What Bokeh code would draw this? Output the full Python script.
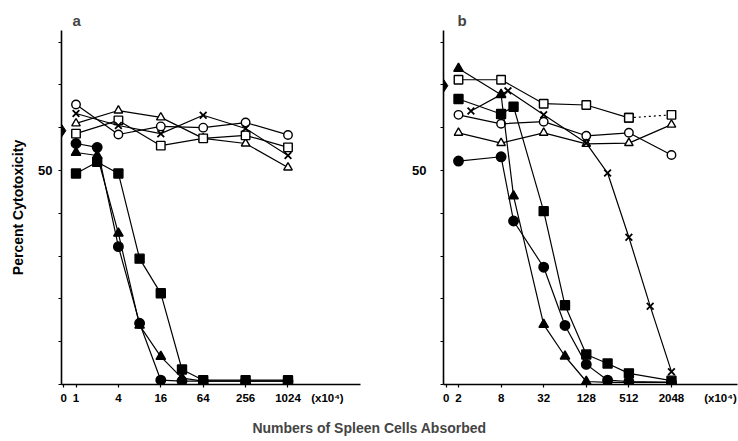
import numpy as np
from bokeh.plotting import figure
from bokeh.models import FixedTicker, Label, Range1d
from bokeh.layouts import column, row
from bokeh.embed import file_html
from bokeh.resources import INLINE

FONT = "Liberation Sans"

# ---------------- data: panel a (cells x10^4 vs % cytotoxicity) ----------------
a_open_x = [1, 4, 16, 64, 256, 1024]
a_circle_open = [65.4, 58.4, 60.3, 60.0, 61.2, 58.3]
a_triangle_open = [61.0, 64.0, 62.4, 57.5, 56.3, 50.7]
a_square_open = [58.6, 61.7, 55.8, 57.5, 58.2, 55.4]
a_cross = [63.3, 60.5, 58.6, 62.9, 59.8, 53.5]

a_filled_x = [1, 2, 4, 8, 16, 32, 64, 256, 1024]
a_circle_filled = [56.3, 55.4, 32.2, 14.3, 1.0, 0.8, 0.8, 0.8, 0.8]
a_triangle_filled = [54.2, 53.5, 35.3, 13.8, 6.5, 1.5, 0.8, 0.8, 0.8]
a_square_filled = [49.3, 52.0, 49.3, 29.4, 21.3, 3.5, 1.0, 1.0, 1.0]
a_control = 59.3

a_tick_cells = [1, 4, 16, 64, 256, 1024]
a_tick_labels = ["1", "4", "16", "64", "256", "1024"]

# ---------------- data: panel b ----------------
b_open_x = [2, 8, 32, 128, 512, 2048]
b_circle_open = [63.0, 60.9, 61.4, 58.1, 58.8, 53.6]
b_triangle_open = [58.8, 56.4, 58.8, 56.2, 56.4, 60.7]
b_square_open = [71.2, 71.2, 65.6, 65.3, 62.3, 63.0]

b_cross_x = [3, 10, 32, 128, 256, 512, 1024, 2048]
b_cross = [63.9, 68.6, 63.0, 56.4, 49.4, 34.4, 18.3, 3.0]

b_filled_x = [2, 8, 12, 32, 64, 128, 256, 512, 2048]
b_triangle_filled = [73.8, 67.7, 44.0, 14.0, 6.6, 0.7, 0.5, 0.5, 0.5]
b_circle_filled = [52.2, 53.2, 38.2, 27.4, 13.8, 4.7, 1.0, 0.7, 0.5]
b_square_filled = [66.7, 63.2, 64.9, 40.5, 18.5, 7.0, 4.9, 2.6, 0.9]
b_control = 69.8

b_tick_cells = [2, 8, 32, 128, 512, 2048]
b_tick_labels = ["2", "8", "32", "128", "512", "2048"]

unit_label = "(x10⁴)"
y_ticks = [0, 10, 20, 30, 40, 50, 60, 70, 80]
y_labels = {t: ("50" if t == 50 else "") for t in y_ticks}

H = 411
Y_TOP = 82.7


def lg(v):
    return [float(t) for t in np.log2(np.asarray(v, dtype=float))]


def make_panel(width, left, right, xstart, xend, zero_pos, unit_pos, tick_cells,
               tick_labels, letter, letter_offset, ylabel, label_standoff):
    p = figure(width=width, height=H, x_range=Range1d(xstart, xend),
               y_range=Range1d(0, Y_TOP), output_backend="svg", toolbar_location=None,
               min_border_left=left, min_border_right=right, min_border_top=30,
               min_border_bottom=27)
    p.outline_line_color = None
    p.grid.visible = False
    p.background_fill_color = "white"
    p.border_fill_color = "white"

    p.title.text = letter
    p.title.align = "left"
    p.title.offset = letter_offset
    p.title.standoff = 4
    p.title.text_font = FONT
    p.title.text_font_style = "bold"
    p.title.text_font_size = "15px"

    tick_pos = [zero_pos] + lg(tick_cells)
    p.xaxis.ticker = FixedTicker(ticks=tick_pos + [unit_pos], minor_ticks=tick_pos)
    overrides = {zero_pos: "0", unit_pos: unit_label}
    for t, l in zip(lg(tick_cells), tick_labels):
        overrides[t] = l
    p.xaxis.major_label_overrides = overrides
    p.xaxis.major_tick_line_color = None
    p.xaxis.minor_tick_line_color = "black"
    p.xaxis.minor_tick_line_width = 1.2
    p.xaxis.minor_tick_in = 0
    p.xaxis.minor_tick_out = 3
    p.xaxis.major_tick_in = 0
    p.xaxis.major_tick_out = 3

    p.yaxis.ticker = FixedTicker(ticks=y_ticks)
    p.yaxis.major_label_overrides = y_labels
    p.yaxis.major_tick_line_color = "black"
    p.yaxis.major_tick_line_width = 1.2
    p.yaxis.major_tick_in = 0
    p.yaxis.major_tick_out = 3
    p.yaxis.minor_tick_line_color = None

    for ax in (p.xaxis, p.yaxis):
        ax.axis_line_width = 1.6
        ax.axis_line_color = "black"
        ax.major_label_text_font = FONT
        ax.major_label_text_font_style = "bold"
        ax.major_label_text_color = "black"
    p.xaxis.major_label_text_font_size = "11.5px"
    p.xaxis.major_label_standoff = 4
    p.yaxis.major_label_text_font_size = "13px"
    p.yaxis.major_label_standoff = label_standoff
    if ylabel:
        p.yaxis.axis_label = ylabel
        p.yaxis.axis_label_text_font = FONT
        p.yaxis.axis_label_text_font_style = "bold"
        p.yaxis.axis_label_text_font_size = "14px"
        p.yaxis.axis_label_text_color = "black"
        p.yaxis.axis_label_standoff = 9
    return p


def series(p, xs, ys, marker, filled, size=8.5, dash="solid"):
    x = lg(xs)
    p.line(x, ys, line_color="black", line_width=1.2, line_dash=dash)
    if marker == "x":
        p.scatter(x, ys, marker="x", size=size + 1, line_color="black", line_width=1.8)
    else:
        p.scatter(x, ys, marker=marker, size=size, line_color="black", line_width=1.4,
                  fill_color="black" if filled else "white")


# ---------- panel a ----------
pa = make_panel(370, 61, 10, -0.684, 13.42, -0.58, 11.86, a_tick_cells, a_tick_labels,
                "a", 11, "Percent Cytotoxicity", 6)
series(pa, a_open_x, a_circle_open, "circle", False)
series(pa, a_open_x, a_triangle_open, "triangle", False)
series(pa, a_open_x, a_square_open, "square", False)
series(pa, a_open_x, a_cross, "x", False)
series(pa, a_filled_x, a_circle_filled, "circle", True, 9.5)
series(pa, a_filled_x, a_triangle_filled, "triangle", True, 9.5)
series(pa, a_filled_x, a_square_filled, "square", True, 9)
pa.scatter([-0.684], [a_control], marker="diamond", size=13, fill_color="black",
           line_color="black")

# ---------- panel b ----------
pb = make_panel(368, 73, 1, 0.296, 14.1, 0.42, 13.3, b_tick_cells, b_tick_labels,
                "b", 14, None, 14)
series(pb, b_open_x, b_circle_open, "circle", False)
series(pb, b_open_x, b_triangle_open, "triangle", False)
series(pb, b_open_x[:-1], b_square_open[:-1], "square", False)
series(pb, b_open_x[-2:], b_square_open[-2:], "square", False, dash="2 3")
series(pb, b_cross_x, b_cross, "x", False)
series(pb, b_filled_x, b_triangle_filled, "triangle", True, 9.5)
series(pb, b_filled_x, b_circle_filled, "circle", True, 9.5)
series(pb, b_filled_x, b_square_filled, "square", True, 9)
pb.scatter([0.296], [b_control], marker="diamond", size=13, fill_color="black",
           line_color="black")

# ---------- shared x title ----------
pt = figure(width=738, height=30, x_range=Range1d(0, 738), y_range=Range1d(0, 30),
            output_backend="svg", toolbar_location=None, min_border=0)
pt.axis.visible = False
pt.grid.visible = False
pt.outline_line_color = None
pt.add_layout(Label(x=369, y=14, text="Numbers of Spleen Cells Absorbed", text_font=FONT,
                    text_font_style="bold", text_font_size="14px", text_align="center",
                    text_baseline="middle"))

layout = column(row(pa, pb, spacing=0), pt, spacing=0)
open("out.html", "w").write(file_html(layout, INLINE))
